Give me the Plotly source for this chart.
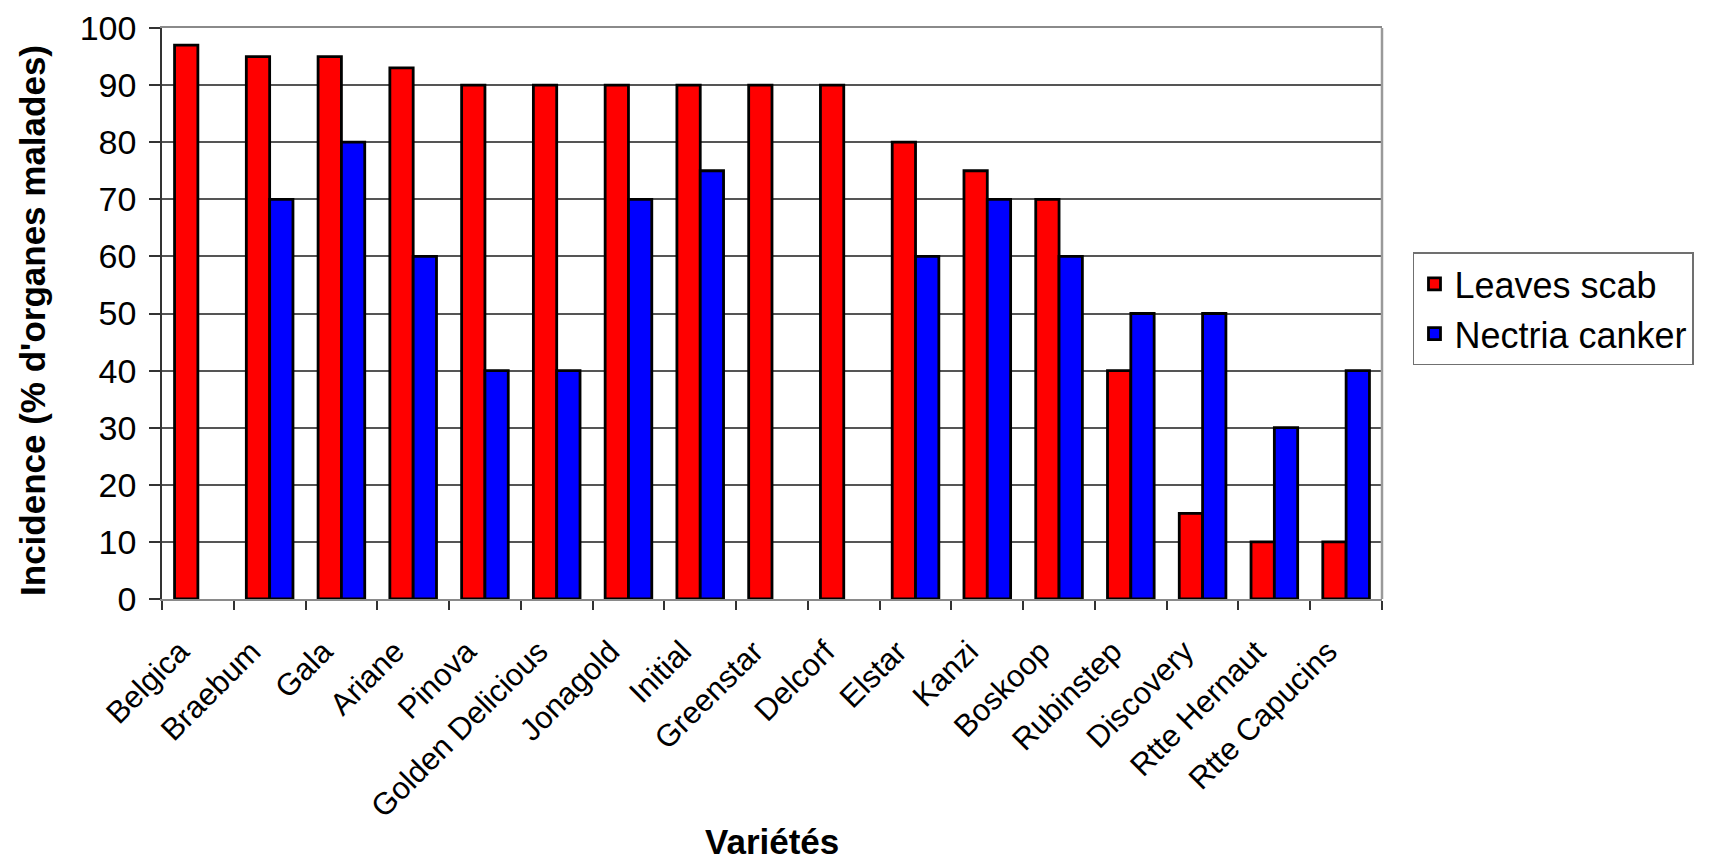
import plotly.graph_objects as go

# Apple varieties and disease incidence (% of diseased organs); None = not recorded
varieties = [
    "Belgica", "Braebum", "Gala", "Ariane", "Pinova", "Golden Delicious",
    "Jonagold", "Initial", "Greenstar", "Delcorf", "Elstar", "Kanzi",
    "Boskoop", "Rubinstep", "Discovery", "Rtte Hernaut", "Rtte Capucins",
]
leaves_scab = [97, 95, 95, 93, 90, 90, 90, 90, 90, 90, 80, 75, 70, 40, 15, 10, 10]
nectria_canker = [None, 70, 80, 60, 40, 40, 70, 75, None, None, 60, 70, 60, 50, 50, 30, 40]
y_ticks = [0, 10, 20, 30, 40, 50, 60, 70, 80, 90, 100]

FONT = "Liberation Sans, Arial, sans-serif"

fig = go.Figure()
fig.add_trace(go.Bar(
    x=varieties, y=leaves_scab, name="Leaves scab", legendgroup="a",
    marker=dict(color="#FF0000", line=dict(color="black", width=2.8)),
))
fig.add_trace(go.Bar(
    x=varieties, y=nectria_canker, name="Nectria canker", legendgroup="b",
    marker=dict(color="#0000FF", line=dict(color="black", width=2.8)),
))

L, R, T, B = 162, 329, 28, 264
fig.update_layout(
    width=1711, height=863,
    margin=dict(l=L, r=R, t=T, b=B, autoexpand=False),
    paper_bgcolor="white", plot_bgcolor="white",
    barmode="group", bargap=0.35, bargroupgap=0,
    font=dict(family=FONT, color="black", size=30),
    showlegend=True,
    legend=dict(
        x=1.0254, y=0.607, xanchor="left", yanchor="top",
        bordercolor="#707070", borderwidth=1.5, bgcolor="white",
        font=dict(family=FONT, size=36, color="black"),
        tracegroupgap=20, traceorder="normal",
    ),
    xaxis=dict(
        type="category", tickangle=-45, tickson="boundaries",
        ticks="outside", ticklen=9, tickcolor="#333333", tickwidth=1.5,
        showline=True, linecolor="#8a8a8a", linewidth=2, mirror=True,
        showgrid=False, ticklabelstandoff=20, ticklabelshift=-18,
        tickfont=dict(family=FONT, size=31, color="black"),
    ),
    yaxis=dict(
        range=[0, 100], tickvals=y_ticks,
        ticks="outside", ticklen=11, tickcolor="#333333", tickwidth=1.5,
        showline=True, linecolor="#333333", linewidth=1.5,
        showgrid=True, gridcolor="#555555", gridwidth=1.5,
        zeroline=False, ticklabelstandoff=6,
        tickfont=dict(family=FONT, size=34, color="black"),
    ),
    shapes=[dict(
        type="line", xref="paper", yref="paper", x0=1, x1=1, y0=0, y1=1,
        line=dict(color="#9a9a9a", width=2.5),
    )],
    annotations=[
        dict(
            text="<b>Incidence (% d'organes malades)</b>",
            xref="paper", yref="paper", x=-0.1057, y=0.487,
            xanchor="center", yanchor="middle", textangle=-90, showarrow=False,
            font=dict(family=FONT, size=35, color="black"),
        ),
        dict(
            text="<b>Variétés</b>",
            xref="paper", yref="paper", x=0.5, y=-0.425,
            xanchor="center", yanchor="middle", showarrow=False,
            font=dict(family=FONT, size=35, color="black"),
        ),
    ],
)

fig.write_html("out.html")
